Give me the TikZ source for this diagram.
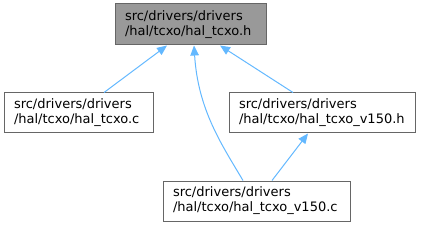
\documentclass[tikz,border=0pt]{standalone}
\usepackage{fontspec}
\setmainfont{DejaVu Sans}
\usetikzlibrary{arrows.meta}
\definecolor{edgeblue}{HTML}{63B8FF}
\definecolor{boxgray}{HTML}{999999}
\definecolor{boxline}{HTML}{666666}
\begin{document}
\begin{tikzpicture}[x=1pt, y=-1pt,
  every node/.style={draw=boxline, line width=1pt, fill=white, rectangle, align=left, inner xsep=10pt, inner ysep=0pt, font=\fontsize{13}{15}\selectfont},
  dep/.style={edgeblue, line width=1pt, {Triangle[length=10pt, width=8.5pt]}-}]
  \useasboundingbox (0,0) rectangle (423,227);
  \node[fill=boxgray, text width=131pt, minimum height=41pt] (top) at (190.5,24.5) {src/drivers/drivers\\/hal/tcxo/hal\_tcxo.h};
  \node[text width=129pt, minimum height=40pt] (c) at (78.5,113) {src/drivers/drivers\\/hal/tcxo/hal\_tcxo.c};
  \node[text width=166pt, minimum height=40pt] (vh) at (322,113) {src/drivers/drivers\\/hal/tcxo/hal\_tcxo\_v150.h};
  \node[text width=167pt, minimum height=40pt] (vc) at (256.5,201) {src/drivers/drivers\\/hal/tcxo/hal\_tcxo\_v150.c};

  \draw[dep] (top.south -| 167,0) -- (c.north -| 104,0);
  \draw[dep] (top.south -| 194,0) .. controls (198,110) and (222,145) .. (vc.north -| 243,0);
  \draw[dep] (top.south -| 220,0) -- (vh.north -| 293,0);
  \draw[dep] (vh.south -| 308,0) -- (vc.north -| 272,0);
\end{tikzpicture}
\end{document}
